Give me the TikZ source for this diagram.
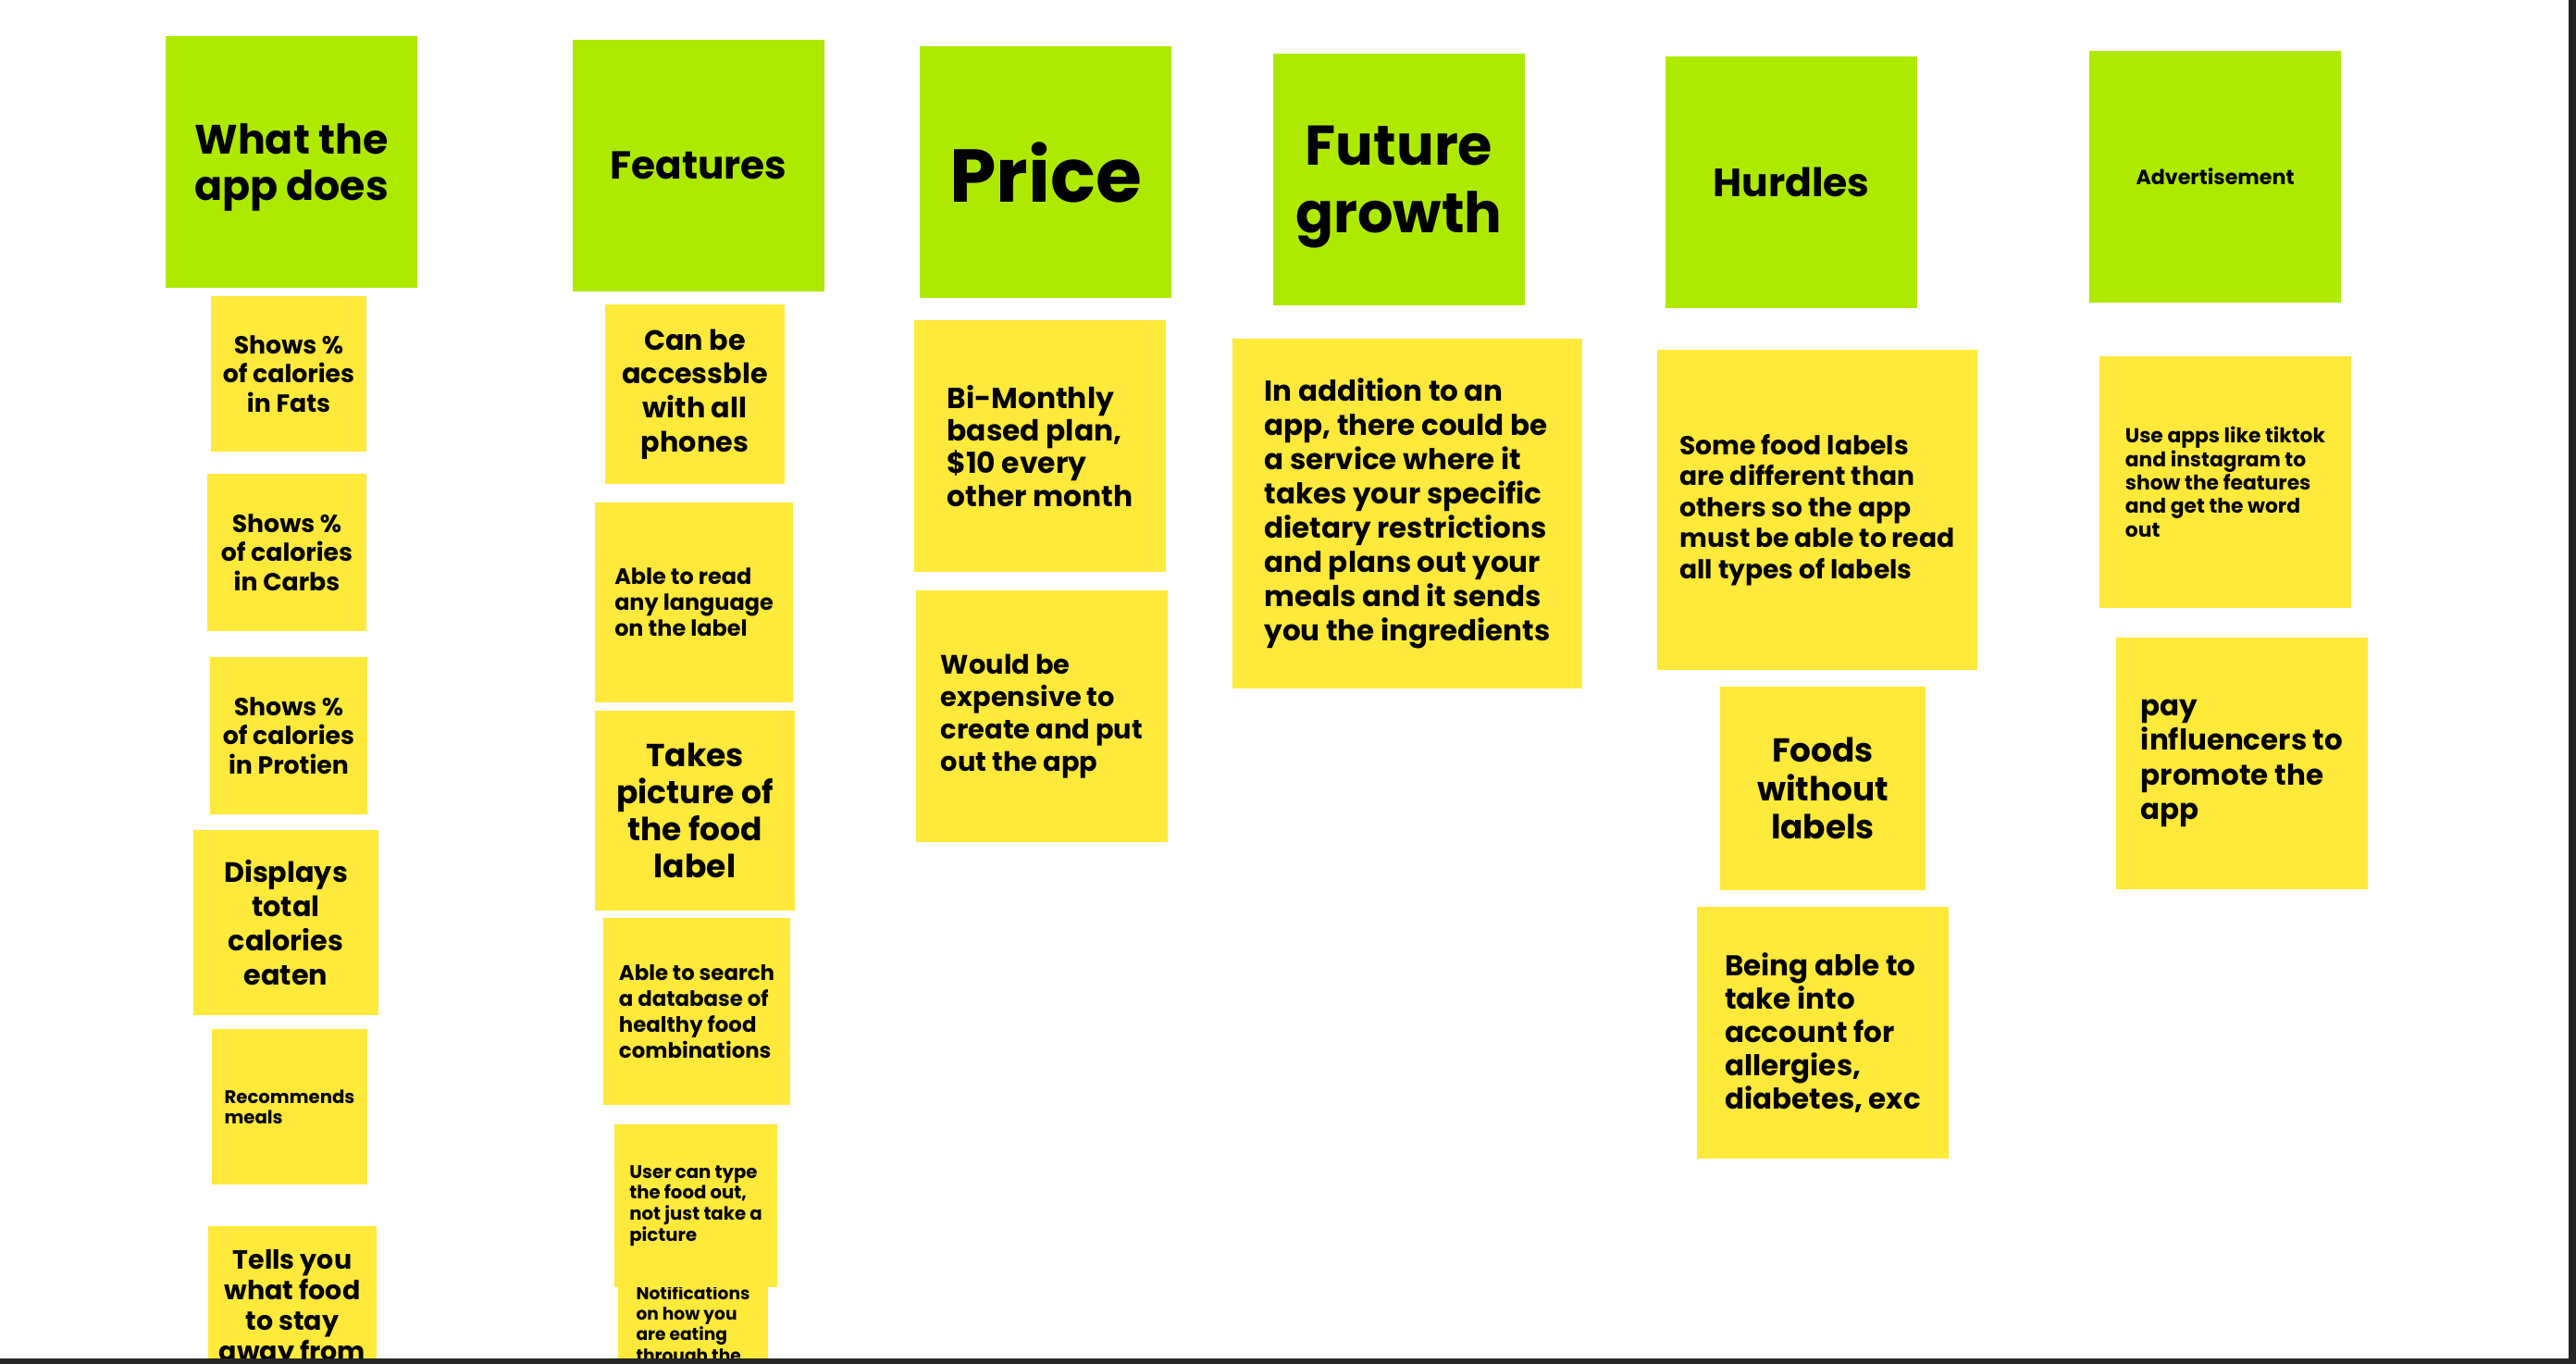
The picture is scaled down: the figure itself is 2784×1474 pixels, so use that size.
\documentclass[tikz,border=0pt]{standalone}
\usepackage{fontspec}
\setmainfont{Poppins}
\usepackage{tikz}
\definecolor{topicgreen}{HTML}{AEEA00}
\definecolor{stickyyellow}{HTML}{FFE93B}
\definecolor{edgedark}{HTML}{262626}
\tikzset{
    every picture/.style={line cap=round,line join=round},
    card/.style={inner sep=0pt,outer sep=0pt,text=black},
    topic/.style={card,fill=topicgreen,align=center,
      minimum width=2.72cm,minimum height=2.72cm},
    sticky/.style={card,fill=stickyyellow,align=left},
    mid/.style={align=center},
    wh/.style 2 args={minimum width=#1cm,minimum height=#2cm},
    txt/.style 2 args={font=\fontsize{#1}{#2}\selectfont\bfseries}
}

\begin{document}
\begin{tikzpicture}[x=0.01cm,y=-0.01cm]
  \useasboundingbox (0,0) rectangle (2784,1474);
  \fill[white] (0,0) rectangle (2784,1474);
  \begin{scope}
  \clip (0,0) rectangle (2776,1468);
  % topics
  \node[topic,txt={12.6}{14.4},text depth=0pt] (what) at (315,175) {What the\\app does};
  \node[topic,txt={12}{14}] (feat) at (755,179) {Features};
  \node[topic,txt={23}{26}] (price) at (1130,186) {Price};
  \node[topic,txt={17.2}{20.6},text depth=0pt] (future) at (1512,194) {Future\\growth};
  \node[topic,txt={12.1}{14}] (hurdle) at (1936,197) {Hurdles};
  \node[topic,txt={6.3}{7}] (advert) at (2394,191) {Advertisement};
  % what the app does
  \node[sticky,mid,wh={1.68}{1.67},txt={7.6}{8.9}] (fats) at (312,404) {Shows \%\\of calories\\in Fats};
  \node[sticky,mid,wh={1.71}{1.69},txt={7.6}{9}] (carbs) at (310,597) {Shows \%\\of calories\\in Carbs};
  \node[sticky,mid,wh={1.69}{1.70},txt={7.6}{9}] (prot) at (312,795) {Shows \%\\of calories\\in Protien};
  \node[sticky,mid,wh={1.99}{2.00},txt={8.6}{10.6}] (total) at (309,997) {Displays\\total\\calories\\eaten};
  \node[sticky,wh={1.67}{1.67},txt={5.6}{6.3}] (meals) at (313,1196) {Recommends\\meals};
  \node[sticky,mid,wh={1.81}{1.78},txt={8.1}{9.4}] (avoid) at (316,1414) {Tells you\\what food\\to stay\\away from};
  % features
  \node[sticky,mid,wh={1.94}{1.93},txt={8.6}{10.4}] (phones) at (751,426) {Can be\\accessble\\with all\\phones};
  \node[sticky,wh={2.14}{2.15},txt={6.8}{8}] (lang) at (750,651) {Able to read\\any language\\on the label};
  \node[sticky,mid,wh={2.16}{2.16},txt={9.8}{11.4}] (photo) at (751,876) {Takes\\picture of\\the food\\label};
  \node[sticky,wh={2.01}{2.01},txt={6.5}{8}] (search) at (753,1093) {Able to search\\a database of\\healthy food\\combinations};
  \node[sticky,wh={1.62}{2.06},txt={5.3}{6.3}] (notif) at (749,1433) {Notifications\\on how you\\are eating\\through the};
  \node[sticky,wh={1.76}{1.76},txt={5.6}{6.5}] (typed) at (752,1303) {User can type\\the food out,\\not just take a\\picture};
  % price
  \node[sticky,wh={2.71}{2.72},txt={8.9}{10}] (plan) at (1124,482) {Bi-Monthly\\based plan,\\\$10 every\\other month};
  \node[sticky,wh={2.71}{2.72},txt={8.2}{10}] (cost) at (1126,774) {Would be\\expensive to\\create and put\\out the app};
  % future growth
  \node[sticky,wh={3.78}{3.78},txt={8.8}{10.5}] (service) at (1521,555) {In addition to an\\app, there could be\\a service where it\\takes your specific\\dietary restrictions\\and plans out your\\meals and it sends\\you the ingredients};
  % hurdles
  \node[sticky,wh={3.45}{3.46},txt={8}{9.5}] (labels) at (1964,551) {Some food labels\\are different than\\others so the app\\must be able to read\\all types of labels};
  \node[sticky,mid,wh={2.21}{2.20},txt={10.2}{11.7}] (nolabel) at (1970,852) {Foods\\without\\labels};
  \node[sticky,wh={2.71}{2.72},txt={8.8}{10.2}] (allergy) at (1970,1116) {Being able to\\take into\\account for\\allergies,\\diabetes, exc};
  % advertisement
  \node[sticky,wh={2.71}{2.71},txt={6.2}{7.2}] (apps) at (2405,521) {Use apps like tiktok\\and instagram to\\show the features\\and get the word\\out};
  \node[sticky,wh={2.71}{2.72},txt={8.8}{10.6}] (influ) at (2423,825) {pay\\influencers to\\promote the\\app};
  \end{scope}
  % window edges
  \fill[edgedark] (2776,0) rectangle (2784,1474);
  \fill[edgedark] (0,1468) rectangle (2784,1474);
\end{tikzpicture}
\end{document}
